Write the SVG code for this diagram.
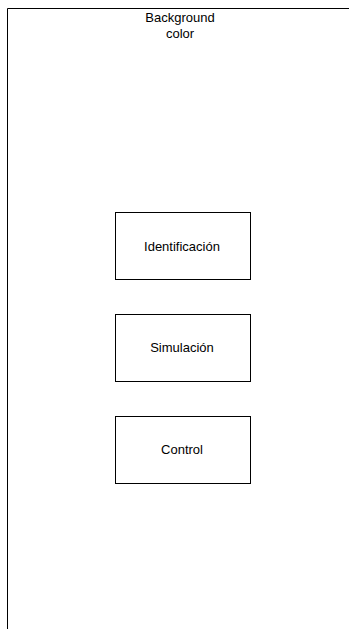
<svg xmlns="http://www.w3.org/2000/svg" width="349" height="629" viewBox="0 0 349 629">
  <style>
    .frame { fill: none; stroke: #000; stroke-width: 1; }
    .node rect { fill: #fff; stroke: #000; stroke-width: 1; }
    text { font-family: "Liberation Sans", Arial, sans-serif; font-size: 13px; fill: #000; text-anchor: middle; }
  </style>
  <rect width="349" height="629" fill="#fff"/>
  <!-- outer container -->
  <g id="background">
    <path class="frame" d="M7.5,640 V8.5 H360"/>
    <text x="180" y="22">Background</text>
    <text x="180" y="37.5">color</text>
  </g>
  <g id="identificacion" class="node">
    <rect x="115.5" y="212.5" width="135" height="67"/>
    <text x="182" y="250.5">Identificación</text>
  </g>
  <g id="simulacion" class="node">
    <rect x="115.5" y="314.5" width="135" height="67"/>
    <text x="182" y="352">Simulación</text>
  </g>
  <g id="control" class="node">
    <rect x="115.5" y="416.5" width="135" height="67"/>
    <text x="182" y="454">Control</text>
  </g>
  <g id="connectors"/>
</svg>
